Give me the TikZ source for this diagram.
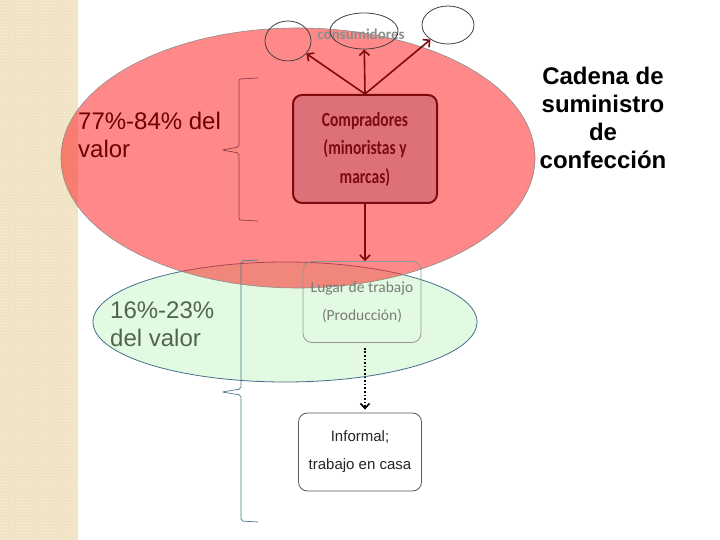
\documentclass[tikz,border=0pt]{standalone}
\usepackage{fontspec}
\usepackage{graphicx}
\setmainfont{Liberation Sans}
\newfontfamily\carlito{Carlito}
\usetikzlibrary{arrows.meta,positioning,shapes.geometric,patterns}
\definecolor{StripBeige}{RGB}{240,226,192}
\definecolor{ValueRed}{RGB}{255,40,40}
\definecolor{ValueGreen}{RGB}{226,250,226}
\definecolor{EdgeBlue}{RGB}{70,110,140}
\definecolor{DarkRed}{RGB}{125,10,15}
\definecolor{BuyerFill}{RGB}{222,112,122}
\definecolor{SoftGray}{RGB}{120,125,120}
\definecolor{TextRed}{RGB}{110,0,0}
\definecolor{TextGreen}{RGB}{80,100,80}
\definecolor{BraceRed}{RGB}{150,60,70}
\definecolor{BraceTeal}{RGB}{70,125,135}
\newcommand{\tallline}[1]{\scalebox{1}[1.3]{#1}}

\begin{document}
\begin{tikzpicture}[x=1bp,y=-1bp,
    roundbox/.style={draw, rounded corners=9bp, align=center, inner sep=0pt},
    consumer/.style={ellipse, draw=black!75, line width=0.8bp, inner sep=0pt},
    buyarrow/.style={DarkRed, line width=1.6bp, -{Straight Barb[length=5bp,width=10bp]}},
    bigtext/.style={inner sep=0pt, font=\fontsize{24bp}{28bp}\selectfont}]
  \useasboundingbox (0,0) rectangle (720,540);
  \fill[white] (0,0) rectangle (720,540);
  % side strip
  \fill[StripBeige] (0,0) rectangle (78,540);
  \fill[pattern=crosshatch dots, pattern color=white!70!StripBeige] (0,0) rectangle (78,540);
  % value areas
  \fill[ValueGreen] (285,322) ellipse [x radius=192bp, y radius=60bp];
  \draw[EdgeBlue, line width=0.8bp] (285,322) ellipse [x radius=192bp, y radius=60bp];
  \filldraw[fill=ValueRed, fill opacity=0.55, draw=black!45, line width=0.6bp] (298,158) ellipse [x radius=237bp, y radius=130bp];
  % brackets
  \draw[BraceRed, line width=0.7bp, rounded corners=2bp] (258,78) -- (239,79) -- (239,147) -- (222,150) -- (239,153) -- (239,220) -- (258,221);
  \draw[BraceTeal, line width=0.7bp, rounded corners=2bp] (258,260) -- (241,261) -- (241,389) -- (222,392) -- (241,395) -- (241,521) -- (258,522);
  % texts
  \node[bigtext, anchor=north west, align=left, text=TextRed] (upper) at (78,112) {77\%-84\% del\\valor};
  \node[bigtext, anchor=north west, align=left, text=TextGreen] (lower) at (110,302) {16\%-23\%\\del valor};
  \node[bigtext, anchor=north, align=center, font=\bfseries\fontsize{24bp}{28bp}\selectfont] (title) at (603,67) {Cadena de\\suministro\\de\\confección};
  \node[text=black!45, font=\carlito\bfseries\fontsize{15bp}{18bp}\selectfont] (cons) at (361,34) {consumidores};
  % consumers
  \node[consumer, minimum width=46bp, minimum height=40bp] (c1) at (288,41) {};
  \node[consumer, minimum width=68bp, minimum height=36bp] (c2) at (364,31) {};
  \node[consumer, minimum width=52bp, minimum height=38bp] (c3) at (448,25) {};
  % chain boxes
  \node[roundbox, draw=DarkRed, line width=2bp, fill=BuyerFill, minimum width=144bp, minimum height=108bp, text=DarkRed, font=\carlito\bfseries\fontsize{15.5bp}{28.5bp}\selectfont] (buyers) at (365,149) {\tallline{Compradores}\\\tallline{(minoristas y}\\\tallline{marcas)}};
  \node[roundbox, draw=SoftGray!80, line width=0.8bp, minimum width=118bp, minimum height=81bp, text=SoftGray, font=\carlito\fontsize{15.5bp}{28bp}\selectfont] (work) at (362,302) {Lugar de trabajo\\(Producción)};
  \node[roundbox, draw=black!65, fill=white, line width=0.8bp, minimum width=123bp, minimum height=78bp, text=black!85, font=\fontsize{15bp}{28bp}\selectfont] (informal) at (360,452) {Informal;\\trabajo en casa};
  % arrows
  \draw[buyarrow] (buyers.north) -- (c1);
  \draw[buyarrow] (buyers.north) -- (c2);
  \draw[buyarrow] (buyers.north) -- (c3);
  \draw[buyarrow] (buyers.south) -- (buyers.south |- work.north);
  \draw[black, line width=1.6bp, dotted, -{Straight Barb[length=5bp,width=9bp]}, shorten <=5bp, shorten >=3bp] (buyers.south |- work.south) -- (buyers.south |- informal.north);
\end{tikzpicture}
\end{document}
